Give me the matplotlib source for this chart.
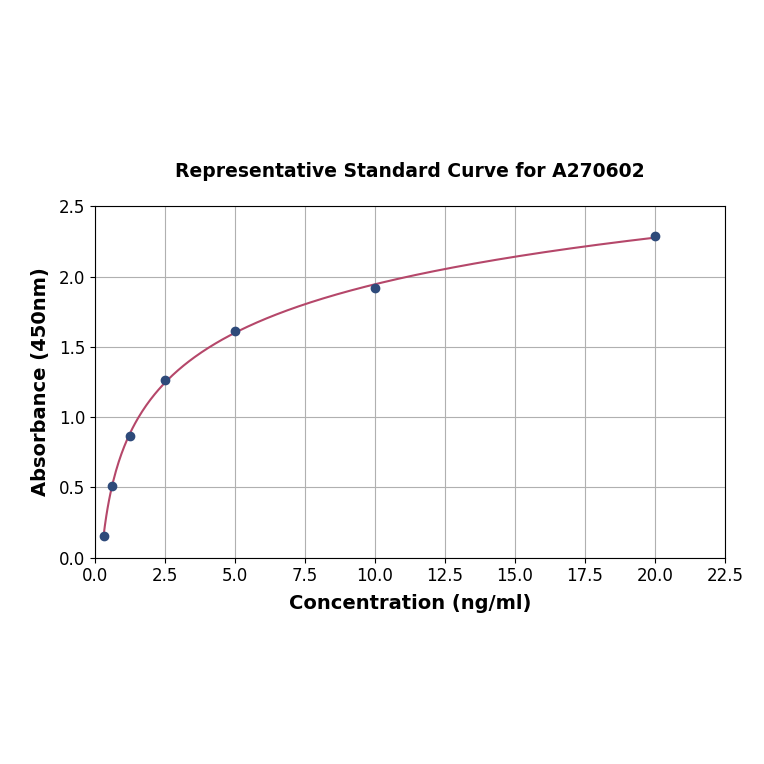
import numpy as np
import matplotlib
matplotlib.use("Agg")
import matplotlib.pyplot as plt

# standard concentrations and measured absorbance
conc = [0.313, 0.625, 1.25, 2.5, 5.0, 10.0, 20.0]
absorbance = [0.156, 0.511, 0.866, 1.264, 1.612, 1.918, 2.287]

x_ticks = [0.0, 2.5, 5.0, 7.5, 10.0, 12.5, 15.0, 17.5, 20.0, 22.5]
y_ticks = [0.0, 0.5, 1.0, 1.5, 2.0, 2.5]

# smooth fit through the standards (cubic in log concentration)
coef = np.polyfit(np.log(conc), absorbance, 3)
xs = np.linspace(min(conc), max(conc), 400)
ys = np.polyval(coef, np.log(xs))

fig = plt.figure(figsize=(7.64, 7.64), dpi=100)
ax = fig.add_axes([0.124, 0.270, 0.825, 0.460])

ax.plot(xs, ys, color="#b5476a", linewidth=1.5, zorder=3)
ax.scatter(conc, absorbance, color="#2e4a7a", s=36, zorder=4)

ax.set_xlim(0, 22.5)
ax.set_ylim(0, 2.5)
ax.set_xticks(x_ticks)
ax.set_yticks(y_ticks)
ax.tick_params(labelsize=12)
ax.grid(True, color="#b0b0b0", linewidth=0.8)
ax.set_axisbelow(True)

ax.set_xlabel("Concentration (ng/ml)", fontsize=14, fontweight="bold", labelpad=6)
ax.set_ylabel("Absorbance (450nm)", fontsize=14, fontweight="bold", labelpad=6)
ax.set_title("Representative Standard Curve for A270602", fontsize=13.5,
             fontweight="bold", pad=21)

fig.savefig("out.png", dpi=100)
